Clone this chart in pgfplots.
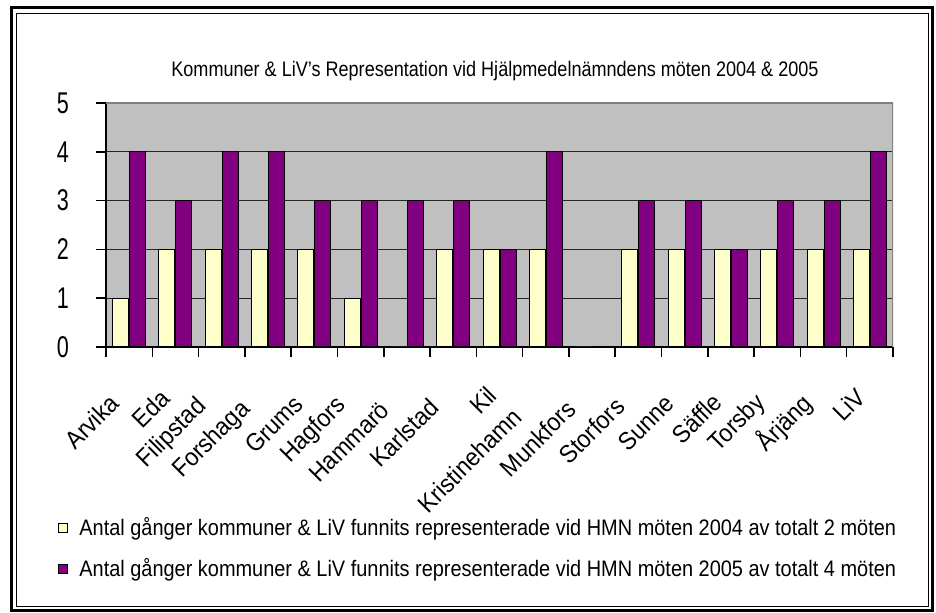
\documentclass[border=0pt]{standalone}
\usepackage{fontspec}
\setmainfont{Liberation Sans}[FakeStretch=0.86]
\newfontfamily\tickfont{Liberation Sans}[FakeStretch=0.72]
\newfontfamily\labfont{Liberation Sans}[FakeStretch=0.92]
\newfontfamily\legfont{Liberation Sans}[FakeStretch=0.89]
\usepackage{pgfplots}
\pgfplotsset{compat=1.18}
\usepackage{pgfplotstable}
\definecolor{barY}{HTML}{FFFFCC}
\definecolor{barP}{HTML}{800080}
\definecolor{plotgray}{HTML}{C0C0C0}
\definecolor{edgegray}{HTML}{808080}
\newcommand\XL[1]{\makebox[1.28\width][l]{#1}}
\pgfplotstableread{
x y2004 y2005
0 1 4
1 2 3
2 2 4
3 2 4
4 2 3
5 1 3
6 0 3
7 2 3
8 2 2
9 2 4
10 0 0
11 2 3
12 2 3
13 2 2
14 2 3
15 2 3
16 2 4
}\datatable
\begin{document}
\begin{tikzpicture}
\path[use as bounding box] (0pt,0pt) rectangle (468pt,306.5pt);
\draw[line width=1.5pt] (5.75pt,1.25pt) rectangle (466.25pt,302.5pt);
\draw[line width=0.5pt] (8pt,3pt) rectangle (464.25pt,299.5pt);
\node[font=\fontsize{10.5}{12}\selectfont] at (247.5pt,271pt) {Kommuner \& LiV's Representation vid Hjälpmedelnämndens möten 2004 \& 2005};
\begin{axis}[at={(53pt,133pt)}, anchor=south west, scale only axis,
  width=393.5pt, height=122pt,
  ybar=0.5pt, bar width=8pt,
  xmin=-0.5, xmax=16.5, ymin=0, ymax=5,
  xtick={-0.5,0.5,...,16.5},
  xticklabels={},
  extra x ticks={0,...,16},
  extra x tick labels={\XL{Arvika},\XL{Eda},\XL{Filipstad},\XL{Forshaga},\XL{Grums},\XL{Hagfors},\XL{Hammarö},\XL{Karlstad},\XL{Kil},\XL{Kristinehamn},\XL{Munkfors},\XL{Storfors},\XL{Sunne},\XL{Säffle},\XL{Torsby},\XL{Årjäng},\XL{LiV}},
  extra x tick style={major tick length=0pt, tick style={draw=none}},
  tick align=outside, major tick length=5pt,
  tick style={black, line width=0.75pt},
  ytick={0,...,5},
  axis x line*=bottom, axis y line*=left,
  axis line style={line width=1pt},
  ymajorgrids, grid style={black!85, line width=0.5pt},
  axis background/.style={fill=plotgray},
  /pgf/number format/assume math mode=true,
  yticklabel style={font=\fontsize{15}{16}\tickfont, xshift=-10pt},
  xticklabel style={font=\fontsize{12.5}{13}\labfont, xshift=-1pt, yshift=-19.5pt, rotate=45, anchor=east, inner sep=0pt},
  legend image code/.code={\draw[#1, bar shift=0pt] (0pt,-2.25pt) rectangle (4.5pt,2.25pt);},
  legend style={at={(-0.061,-0.697)}, anchor=north west, draw=none, fill=none, font=\fontsize{11.2}{12}\legfont, row sep=10pt, inner sep=0pt, nodes={inner sep=0pt}, column sep=5.5pt},
  legend cell align=left,
]
\addplot[fill=barY, draw=black, line width=0.5pt] table[x=x, y=y2004] {\datatable};
\addlegendentry{Antal gånger kommuner \& LiV funnits representerade vid HMN möten 2004 av totalt 2 möten}
\addplot[fill=barP, draw=black, line width=0.5pt] table[x=x, y=y2005] {\datatable};
\addlegendentry{Antal gånger kommuner \& LiV funnits representerade vid HMN möten 2005 av totalt 4 möten}
\draw[edgegray, line width=1pt] (rel axis cs:0,1) -- (rel axis cs:1,1) -- (rel axis cs:1,0);
\end{axis}
\end{tikzpicture}
\end{document}
